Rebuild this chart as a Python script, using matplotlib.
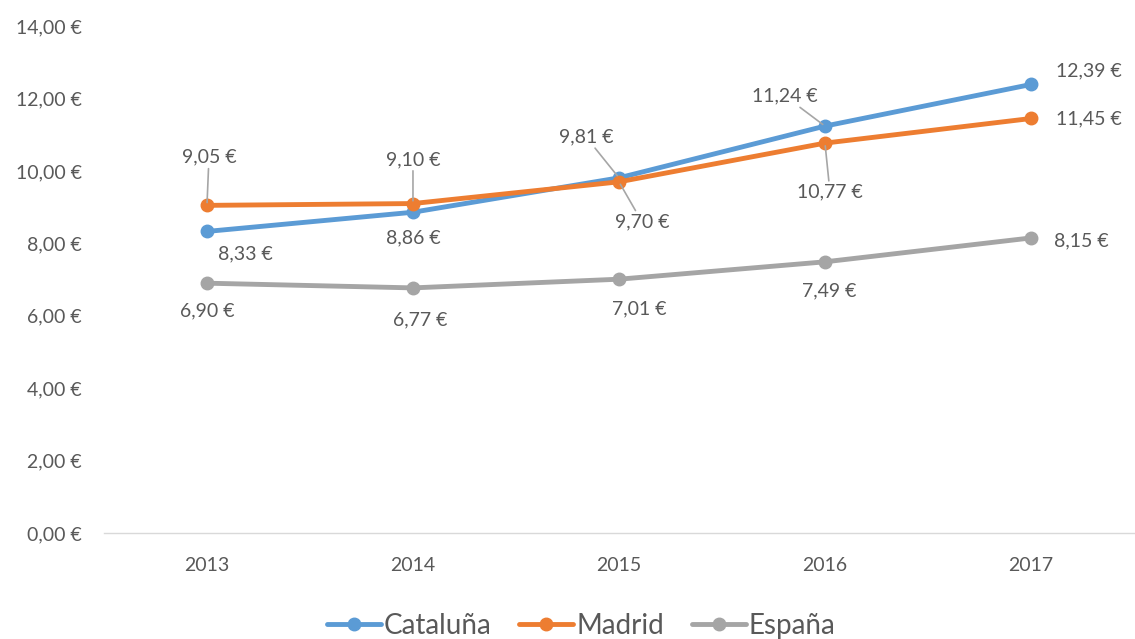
import matplotlib
matplotlib.use("Agg")
import matplotlib.pyplot as plt

# Data
years = ["2013", "2014", "2015", "2016", "2017"]
cataluna = [8.33, 8.86, 9.81, 11.24, 12.39]
madrid = [9.05, 9.10, 9.70, 10.77, 11.45]
espana = [6.90, 6.77, 7.01, 7.49, 8.15]

plt.rcParams["font.family"] = ["Lato", "DejaVu Sans"]
text_color = "#595959"

fig = plt.figure(figsize=(11.35, 6.39), dpi=100)
ax = fig.add_axes([0.0916, 0.166, 0.9075, 0.793])

x = list(range(len(years)))
series = [
    ("Cataluña", cataluna, "#5B9BD5"),
    ("Madrid", madrid, "#ED7D31"),
    ("España", espana, "#A5A5A5"),
]
for name, vals, col in series:
    ax.plot(x, vals, color=col, lw=3.5, marker="o", markersize=9,
            solid_capstyle="round", label=name, zorder=3)

# label offsets in pixels (dx, dy) and whether a leader line is drawn
offsets = {
    "Cataluña": [(38, -22, False), (0, -26, False), (-33, 41, True), (-40, 30, True), (58, 14, False)],
    "Madrid": [(2, 48, True), (0, 44, True), (23, -40, True), (5, -49, True), (58, 0, False)],
    "España": [(0, -28, False), (7, -32, False), (20, -30, False), (4, -29, False), (50, -3, False)],
}

def euro(v):
    return f"{v:.2f}".replace(".", ",") + " €"

fs = 14
for name, vals, col in series:
    for i, v in enumerate(vals):
        dx, dy, lead = offsets[name][i]
        kw = {}
        if lead:
            kw["arrowprops"] = dict(arrowstyle="-", color="#A6A6A6", lw=1.2,
                                    shrinkA=0, shrinkB=2)
        ax.annotate(euro(v), xy=(i, v), xytext=(dx, dy), textcoords="offset pixels",
                    ha="center", va="center", fontsize=fs, color=text_color,
                    zorder=4, **kw)

ax.set_xlim(-0.5, len(years) - 0.5)
ax.set_ylim(0, 14)
ax.set_yticks(range(0, 15, 2))
ax.set_yticklabels([euro(t) for t in range(0, 15, 2)])
ax.set_xticks(x)
ax.set_xticklabels(years)
ax.tick_params(axis="both", length=0, labelsize=fs, labelcolor=text_color)
ax.tick_params(axis="y", pad=16)
ax.tick_params(axis="x", pad=17)

for side in ["top", "right", "left"]:
    ax.spines[side].set_visible(False)
ax.spines["bottom"].set_color("#D9D9D9")
ax.spines["bottom"].set_linewidth(1)

leg = fig.legend(loc="center", bbox_to_anchor=(0.512, 0.02), ncol=3, frameon=False,
                 fontsize=20, handlelength=1.95, handletextpad=0.1, columnspacing=1.0,
                 labelcolor=text_color)

fig.savefig("out.png", dpi=100)
